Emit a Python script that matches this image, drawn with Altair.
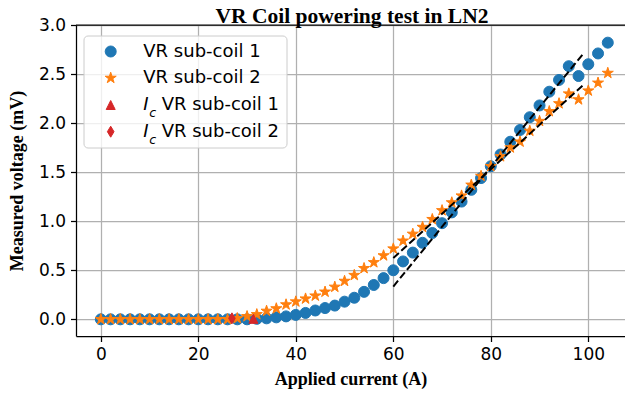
import altair as alt
import pandas as pd

# ---------------- data ----------------
current = [0, 2, 4, 6, 8, 10, 12, 14, 16, 18, 20, 22, 24, 26, 28, 30, 32, 34,
           36, 38, 40, 42, 44, 46, 48, 50, 52, 54, 56, 58, 60, 62, 64, 66, 68,
           70, 72, 74, 76, 78, 80, 82, 84, 86, 88, 90, 92, 94, 96, 98, 100, 102, 104]

v_sub1 = [0.0, 0.0, 0.0, 0.0, 0.0, 0.0, 0.0, 0.0, 0.0, 0.0, 0.0, 0.0, 0.0, 0.0,
          0.0, 0.0, 0.005, 0.01, 0.02, 0.03, 0.045, 0.065, 0.09, 0.115, 0.14,
          0.18, 0.22, 0.28, 0.35, 0.42, 0.50, 0.59, 0.68, 0.78, 0.88, 0.98,
          1.09, 1.20, 1.32, 1.44, 1.56, 1.68, 1.81, 1.93, 2.06, 2.18, 2.32,
          2.44, 2.58, 2.48, 2.60, 2.71, 2.82]

v_sub2 = [0.0, 0.0, 0.0, 0.0, 0.0, 0.0, 0.0, 0.0, 0.0, 0.0, 0.0, 0.0, 0.0, 0.0,
          0.01, 0.03, 0.05, 0.085, 0.11, 0.15, 0.18, 0.21, 0.24, 0.28, 0.33,
          0.39, 0.45, 0.52, 0.58, 0.65, 0.72, 0.80, 0.87, 0.94, 1.02, 1.11,
          1.19, 1.26, 1.37, 1.46, 1.56, 1.66, 1.75, 1.81, 1.92, 2.02, 2.12,
          2.20, 2.30, 2.24, 2.33, 2.41, 2.51]

ic1_current = [31.3]
ic1_voltage = [0.005]
ic2_current = [26.9]
ic2_voltage = [0.01]

fit1_current = [60.0, 99.0]
fit1_voltage = [0.334, 2.71]
fit2_current = [60.0, 99.0]
fit2_voltage = [0.624, 2.39]

x_ticks = [0, 20, 40, 60, 80, 100]
y_ticks = [0.0, 0.5, 1.0, 1.5, 2.0, 2.5, 3.0]

legend_labels = ["VR sub-coil 1", "VR sub-coil 2", "VR sub-coil 1", "VR sub-coil 2"]
title_text = "VR Coil powering test in LN2"
x_title = "Applied current (A)"
y_title = "Measured voltage (mV)"

# ---------------- styling ----------------
BLUE = "#1f77b4"
ORANGE = "#ff7f0e"
RED = "#d62728"
STAR = ("M0,-1 L0.2245,-0.309 L0.9511,-0.309 L0.3633,0.118 L0.5878,0.809 "
        "L0,0.382 L-0.5878,0.809 L-0.3633,0.118 L-0.9511,-0.309 L-0.2245,-0.309 Z")
TRI = "M0,-1 L1,1 L-1,1 Z"
THIN_DIAMOND = "M0,-1 L0.6,0 L0,1 L-0.6,0 Z"

W, H = 549, 311
xscale = alt.Scale(domain=[-5.09, 107.53], nice=False, zero=False)
yscale = alt.Scale(domain=[-0.17, 3.0], nice=False, zero=False)


def enc():
    return dict(
        x=alt.X("I:Q", scale=xscale,
                axis=alt.Axis(values=x_ticks, title=x_title, titleY=48.5,
                              titleBaseline="alphabetic", labelFlush=False)),
        y=alt.Y("V:Q", scale=yscale,
                axis=alt.Axis(values=y_ticks, format=".1f", title=y_title,
                              titleX=-53.5, titleBaseline="alphabetic",
                              labelFlush=False)),
    )


def pts(cur, volt, shape, color, size):
    df = pd.DataFrame({"I": cur, "V": volt})
    return alt.Chart(df).mark_point(
        shape=shape, size=size, filled=True, fill=color, stroke=color,
        strokeWidth=1, opacity=1
    ).encode(**enc())


def fit(cur, volt):
    df = pd.DataFrame({"I": cur, "V": volt})
    return alt.Chart(df).mark_line(
        color="black", strokeWidth=2, strokeDash=[7.5, 3.3]
    ).encode(**enc())


one = pd.DataFrame({"k": [0]})

layers = [
    pts(current, v_sub1, "circle", BLUE, 121),
    pts(current, v_sub2, STAR, ORANGE, 135),
    pts(ic1_current, ic1_voltage, TRI, RED, 81),
    pts(ic2_current, ic2_voltage, THIN_DIAMOND, RED, 121),
    fit(fit1_current, fit1_voltage),
    fit(fit2_current, fit2_voltage),
    # top spine
    alt.Chart(one).mark_rule(color="black", strokeWidth=1.25).encode(
        x=alt.value(0), x2=alt.value(W), y=alt.value(0)),
    # chart title
    alt.Chart(one).mark_text(
        text=title_text, font="Liberation Serif", fontSize=21.5,
        fontWeight="bold", color="black", align="center",
        baseline="alphabetic"
    ).encode(x=alt.value(276), y=alt.value(-2.5)),
    # legend frame
    alt.Chart(one).mark_rect(
        fill="white", fillOpacity=0.8, stroke="#cccccc", strokeWidth=1,
        cornerRadius=4
    ).encode(x=alt.value(8), x2=alt.value(211), y=alt.value(11), y2=alt.value(123)),
]

rows = [26.5, 53, 80, 106.7]
mx = 34.7
tx = 67.3
leg_markers = [("circle", BLUE, 121), (STAR, ORANGE, 135), (TRI, RED, 81),
               (THIN_DIAMOND, RED, 121)]
for k, (shape, color, size) in enumerate(leg_markers):
    layers.append(
        alt.Chart(one).mark_point(
            shape=shape, size=size, filled=True, fill=color, stroke=color,
            strokeWidth=1, opacity=1
        ).encode(x=alt.value(mx), y=alt.value(rows[k]))
    )
    if k < 2:
        layers.append(
            alt.Chart(one).mark_text(
                text=legend_labels[k], font="DejaVu Sans", fontSize=18,
                align="left", baseline="middle", color="black"
            ).encode(x=alt.value(tx), y=alt.value(rows[k]))
        )
    else:
        layers.append(
            alt.Chart(one).mark_text(
                text="I", font="DejaVu Sans", fontSize=18, fontStyle="italic",
                align="left", baseline="middle", color="black"
            ).encode(x=alt.value(tx), y=alt.value(rows[k]))
        )
        layers.append(
            alt.Chart(one).mark_text(
                text="c", font="DejaVu Sans", fontSize=12.6, fontStyle="italic",
                align="left", baseline="alphabetic", color="black"
            ).encode(x=alt.value(tx + 6), y=alt.value(rows[k] + 12.3))
        )
        layers.append(
            alt.Chart(one).mark_text(
                text=legend_labels[k], font="DejaVu Sans", fontSize=18,
                align="left", baseline="middle", color="black"
            ).encode(x=alt.value(tx + 18.4), y=alt.value(rows[k]))
        )

chart = alt.layer(*layers).properties(
    width=W, height=H,
    padding={"left": 68, "top": 17, "right": 0, "bottom": 53},
    autosize=alt.AutoSizeParams(type="none"),
).configure_view(stroke=None).configure_axis(
    grid=True, gridColor="#b0b0b0", gridWidth=1.25,
    domainColor="black", domainWidth=1.25,
    tickColor="black", tickWidth=1.25, tickSize=5.5,
    labelFont="DejaVu Sans", labelFontSize=17, labelColor="black",
    labelPadding=5,
    titleFont="Liberation Serif", titleFontSize=18, titleFontWeight="bold",
    titleColor="black",
)

chart.save("out.html", embed_options={"renderer": "svg", "actions": False})
